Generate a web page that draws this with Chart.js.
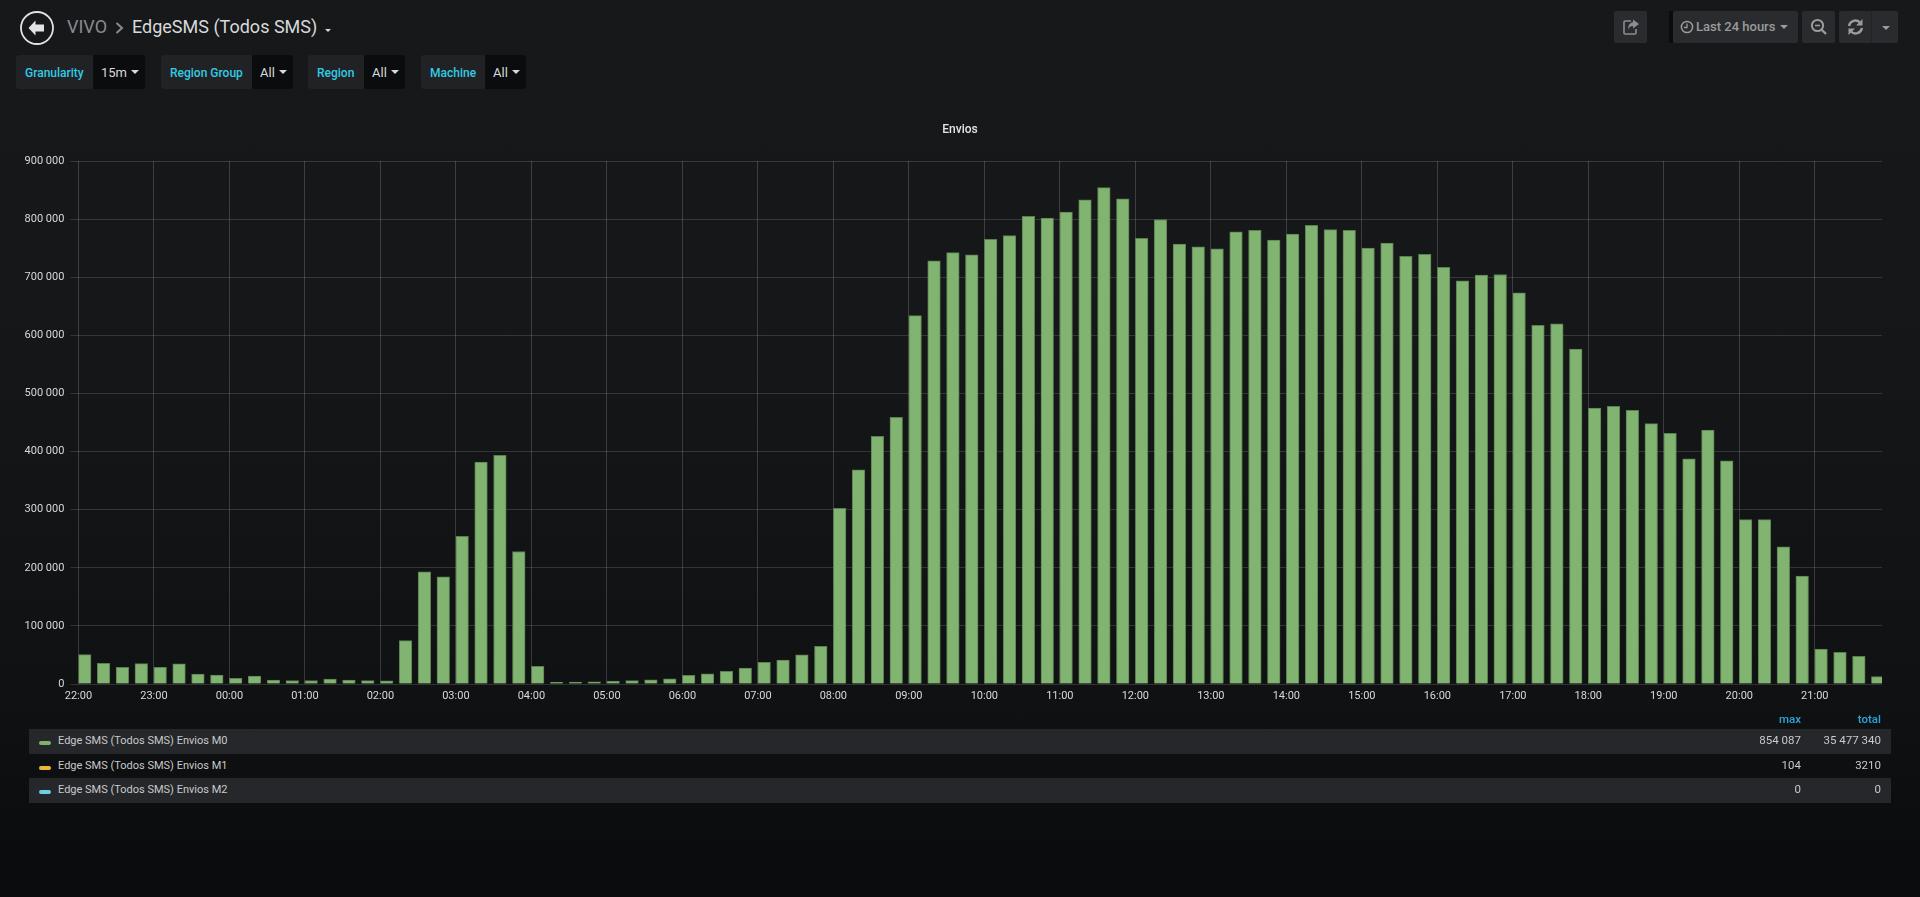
<!DOCTYPE html>
<html>
<head>
<meta charset="utf-8">
<title>EdgeSMS (Todos SMS)</title>
<script src="https://cdn.jsdelivr.net/npm/chart.js@4/dist/chart.umd.min.js"></script>
<style>
    html, body { margin: 0; padding: 0; }
    body {
        width: 1920px; height: 897px; overflow: hidden; position: relative;
        background: linear-gradient(to bottom, #17181a 0, #161719 300px, #101113 700px, #0b0c0e 860px);
        font-family: Roboto, sans-serif; color: #d8d9da;
    }
    .abs { position: absolute; white-space: nowrap; }
    .crumb { top: 15px; font-size: 18px; line-height: 24px; }
    .var { position: absolute; top: 55px; height: 34px; display: flex; font-size: 12px; line-height: 36px; }
    .var .name { background: #212226; color: #31cbe2; font-weight: 500; padding-left: 9px; border-radius: 3px 0 0 3px; box-sizing: border-box; }
    .var .val { background: #0b0c0e; color: #d8d9da; font-size: 13px; padding-left: 8px; border-radius: 0 3px 3px 0; box-sizing: border-box; position: relative; }
    .var .val::after, .tbtn .car {
        content: ""; position: absolute; top: 15px; right: 6px;
        border-left: 4px solid transparent; border-right: 4px solid transparent; border-top: 4px solid #d8d9da;
    }
    .tbtn { position: absolute; top: 11px; height: 32px; background: #2a2b2e; border-radius: 2px; color: #9b9b9b; font-size: 13px; line-height: 32px; box-sizing: border-box; font-weight: 500; }
    .tbtn svg { position: absolute; top: 7px; }
    .tbtn .car { border-top-color: #9b9b9b; top: 14px; }
    canvas { position: absolute; left: 0; top: 115px; }
    .head { top: 711px; font-size: 11.5px; line-height: 16px; color: #2ba6dd; font-weight: 500; text-align: right; }
    .row { position: absolute; left: 29px; width: 1862px; font-size: 11.5px; color: #c8c9ca; }
    .row .swatch { position: absolute; left: 10px; width: 12px; height: 4px; border-radius: 2px; }
    .row .lbl { position: absolute; left: 29px; top: -1px; font-size: 11px; }
    .row .num { position: absolute; top: -1px; text-align: right; }
</style>
</head>
<body>

<svg class="abs" style="left:19px;top:10px" width="36" height="36" viewBox="0 0 36 36">
    <circle cx="18" cy="18" r="16" fill="none" stroke="#e3e3e3" stroke-width="1.8"/>
    <path d="M16.5 10.5 L9.5 18 L16.5 25.5 L16.5 21.5 L25 21.5 L25 14.5 L16.5 14.5 Z" fill="#e3e3e3"/>
</svg>
<div class="abs crumb" style="left:67px;color:#8a8b8d">VIVO</div>
<svg class="abs" style="left:115px;top:22px" width="9" height="12" viewBox="0 0 9 12">
    <path d="M1.5 1 L7 6 L1.5 11" fill="none" stroke="#8a8b8d" stroke-width="2"/>
</svg>
<div class="abs crumb" style="left:132px;color:#d8d9da">EdgeSMS (Todos SMS)</div>
<div class="abs" style="left:325px;top:29px;border-left:3.5px solid transparent;border-right:3.5px solid transparent;border-top:3.5px solid #d8d9da"></div>

<div id="vars"></div>

<div class="tbtn" style="left:1614px;width:33px">
    <svg style="left:8px" width="18" height="18" viewBox="0 0 18 18">
        <path d="M9 3 H3 Q2 3 2 4 V15 Q2 16 3 16 H13 Q14 16 14 15 V11" fill="none" stroke="#8c8d8f" stroke-width="1.6"/>
        <path d="M11 1.5 L17 6 L11 10.5 V8 Q7 8 6 12 Q6 5 11 4 Z" fill="#8c8d8f"/>
    </svg>
</div>
<div class="abs" style="left:1669px;top:11px;width:4px;height:32px;background:#0b0c0e"></div>
<div class="tbtn" style="left:1673px;width:125px;padding-left:23px">
    <svg style="left:7px;top:9px" width="14" height="14" viewBox="0 0 14 14">
        <circle cx="7" cy="7" r="5.6" fill="none" stroke="#9b9b9b" stroke-width="1.5"/>
        <path d="M7 3.5 V7.5 H4" fill="none" stroke="#9b9b9b" stroke-width="1.3"/>
    </svg>
    Last 24 hours<span class="car" style="right:10px"></span>
</div>
<div class="tbtn" style="left:1802px;width:33px">
    <svg style="left:8px" width="18" height="18" viewBox="0 0 18 18">
        <circle cx="7.5" cy="7.5" r="5.6" fill="none" stroke="#9b9b9b" stroke-width="2"/>
        <path d="M5 7.5 H10" stroke="#9b9b9b" stroke-width="1.6"/>
        <path d="M11.5 11.5 L16 16" stroke="#9b9b9b" stroke-width="2.4"/>
    </svg>
</div>
<div class="tbtn" style="left:1839px;width:32px;border-radius:2px 0 0 2px">
    <svg style="left:8px" width="17" height="18" viewBox="0 0 17 18">
        <path d="M2 8 A6.5 6.5 0 0 1 13 4.5" fill="none" stroke="#9b9b9b" stroke-width="2.4"/>
        <path d="M15.5 1 V7.5 H9 Z" fill="#9b9b9b"/>
        <path d="M15 10 A6.5 6.5 0 0 1 4 13.5" fill="none" stroke="#9b9b9b" stroke-width="2.4"/>
        <path d="M1.5 17 V10.5 H8 Z" fill="#9b9b9b"/>
    </svg>
</div>
<div class="tbtn" style="left:1871px;width:27px;border-radius:0 2px 2px 0;border-left:1px solid #232427">
    <span class="car" style="right:8px;top:15px"></span>
</div>

<canvas id="chart" width="1920" height="605"></canvas>

<div class="abs head" style="left:1741px;width:60px">max</div>
<div class="abs head" style="left:1821px;width:60px">total</div>
<div id="legend"></div>

<script>
const slotLabels = [
    "22:00","22:15","22:30","22:45","23:00","23:15","23:30","23:45",
    "00:00","00:15","00:30","00:45","01:00","01:15","01:30","01:45",
    "02:00","02:15","02:30","02:45","03:00","03:15","03:30","03:45",
    "04:00","04:15","04:30","04:45","05:00","05:15","05:30","05:45",
    "06:00","06:15","06:30","06:45","07:00","07:15","07:30","07:45",
    "08:00","08:15","08:30","08:45","09:00","09:15","09:30","09:45",
    "10:00","10:15","10:30","10:45","11:00","11:15","11:30","11:45",
    "12:00","12:15","12:30","12:45","13:00","13:15","13:30","13:45",
    "14:00","14:15","14:30","14:45","15:00","15:15","15:30","15:45",
    "16:00","16:15","16:30","16:45","17:00","17:15","17:30","17:45",
    "18:00","18:15","18:30","18:45","19:00","19:15","19:30","19:45",
    "20:00","20:15","20:30","20:45","21:00","21:15","21:30","21:45"
];

const enviosM0 = [
    50600, 35600, 28700, 35000, 28700, 34500, 17200, 15500,
    9800, 13800, 6900, 6000, 6000, 8300, 6600, 5700,
    5500, 74700, 193000, 184500, 254000, 382000, 393700, 228000,
    30500, 2900, 3400, 3800, 5200, 5800, 7000, 8700,
    15000, 17400, 22000, 27300, 37200, 41300, 50000, 65000,
    302300, 368600, 426000, 458700, 634000, 728000, 742400, 738400,
    765000, 771500, 804600, 801700, 812000, 833000, 854087, 834900,
    766900, 799400, 757000, 752300, 748800, 777900, 780800, 764000,
    774400, 789500, 782000, 780800, 750000, 758700, 736000, 739500,
    716900, 693600, 703500, 704700, 673300, 617400, 619800, 576200,
    475000, 477900, 471000, 448000, 431500, 387400, 437000, 384000,
    283000, 283000, 236000, 185700, 60000, 54400, 47600, 12600
];

const yTicks = [0, 100000, 200000, 300000, 400000, 500000, 600000, 700000, 800000, 900000];
const xTickLabels = ["22:00","23:00","00:00","01:00","02:00","03:00","04:00","05:00","06:00","07:00","08:00","09:00",
    "10:00","11:00","12:00","13:00","14:00","15:00","16:00","17:00","18:00","19:00","20:00","21:00"];

const seriesNames = ["Edge SMS (Todos SMS) Envios M0", "Edge SMS (Todos SMS) Envios M1", "Edge SMS (Todos SMS) Envios M2"];
const seriesColors = ["#7eb26d", "#eab839", "#6ed0e0"];
const seriesMax = ["854 087", "104", "0"];
const seriesTotal = ["35 477 340", "3210", "0"];

const varNames = ["Granularity", "Region Group", "Region", "Machine"];
const varValues = ["15m", "All", "All", "All"];

// [left, divider, right] of each template variable box
const varBoxes = [[16, 93, 145], [161, 252, 293], [308, 364, 405], [421, 485, 526]];

// minutes since the start of the window (22:00)
function minutesFromStart(label) {
    const parts = label.split(":");
    return ((Number(parts[0]) + 2) % 24) * 60 + Number(parts[1]);
}

function groupThousands(value) {
    return String(value).replace(/\B(?=(\d{3})+(?!\d))/g, " ");
}

// flot draws a bar from its timestamp to the right, Chart.js centres it
const barMinutes = 10;

new Chart(document.getElementById("chart"), {
    type: "bar",
    data: {
        datasets: [
            {
                label: seriesNames[0],
                data: slotLabels.map((label, i) => ({ x: minutesFromStart(label) + barMinutes / 2, y: enviosM0[i] })),
                backgroundColor: "#80b470",
                borderColor: "#5b8050",
                borderWidth: 1,
                barThickness: 12.6,
                grouped: false
            },
            { label: seriesNames[1], data: [], backgroundColor: seriesColors[1], grouped: false },
            { label: seriesNames[2], data: [], backgroundColor: seriesColors[2], grouped: false }
        ]
    },
    options: {
        responsive: false,
        animation: false,
        devicePixelRatio: 1,
        plugins: {
            legend: { display: false },
            tooltip: { enabled: false },
            title: {
                display: true,
                text: "Envios",
                color: "#e4e4e4",
                font: { family: "Roboto", size: 12, weight: "500" },
                padding: { top: 8, bottom: 23.6 }
            }
        },
        scales: {
            x: {
                type: "linear",
                offset: false,
                min: 0,
                max: 1433.4,
                afterFit: scale => { scale.height = 36; },
                border: { display: false },
                grid: { color: "rgba(255, 255, 255, 0.17)", drawTicks: false, offset: false },
                ticks: {
                    stepSize: 60,
                    includeBounds: false,
                    autoSkip: false,
                    maxRotation: 0,
                    padding: 6,
                    color: "#d8d9da",
                    font: { family: "Roboto", size: 11 },
                    callback: value => xTickLabels[value / 60]
                }
            },
            y: {
                min: yTicks[0],
                max: yTicks[yTicks.length - 1],
                afterFit: scale => { scale.width = 78.4; },
                border: { display: false },
                grid: { color: "rgba(255, 255, 255, 0.14)", tickLength: 8 },
                ticks: {
                    stepSize: 100000,
                    padding: 6,
                    color: "#d8d9da",
                    font: { family: "Roboto", size: 11 },
                    callback: value => groupThousands(value)
                }
            },
            // empty axis, only keeps the plot clear of the right margin so the title stays centred
            rightGap: {
                type: "linear",
                position: "right",
                afterFit: scale => { scale.width = 38; },
                border: { display: false },
                grid: { display: false },
                ticks: { display: false }
            }
        }
    }
});

// template variable row
const varsEl = document.getElementById("vars");
varNames.forEach((name, i) => {
    const box = varBoxes[i];
    const el = document.createElement("div");
    el.className = "var";
    el.style.left = box[0] + "px";
    el.innerHTML = `<div class="name" style="width:${box[1] - box[0]}px">${name}</div>` +
        `<div class="val" style="width:${box[2] - box[1]}px">${varValues[i]}</div>`;
    varsEl.appendChild(el);
});

// legend table
const legendEl = document.getElementById("legend");
const rowTops = [729, 755, 778];
const rowHeights = [25, 23, 25];
seriesNames.forEach((name, i) => {
    const row = document.createElement("div");
    row.className = "row";
    row.style.top = rowTops[i] + "px";
    row.style.height = rowHeights[i] + "px";
    row.style.lineHeight = rowHeights[i] + "px";
    if (i !== 1) row.style.background = "#26272a";
    row.innerHTML =
        `<div class="swatch" style="background:${seriesColors[i]};top:${Math.round(rowHeights[i] / 2) - 1}px"></div>` +
        `<div class="lbl">${name}</div>` +
        `<div class="num" style="right:90px">${seriesMax[i]}</div>` +
        `<div class="num" style="right:10px">${seriesTotal[i]}</div>`;
    legendEl.appendChild(row);
});
</script>
</body>
</html>
